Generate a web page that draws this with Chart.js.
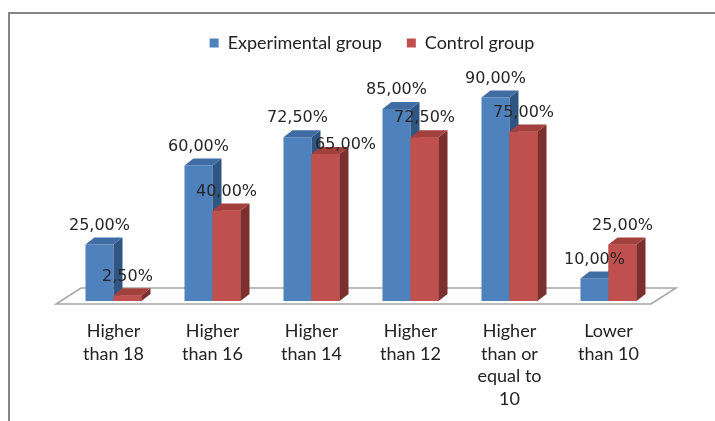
<!DOCTYPE html>
<html>
<head>
<meta charset="utf-8">
<script src="https://cdn.jsdelivr.net/npm/chart.js@4.4.0/dist/chart.umd.min.js"></script>
<style>
  html, body { margin: 0; padding: 0; background: #fff; }
  #wrap { width: 715px; height: 421px; }
</style>
</head>
<body>
<div id="wrap"><canvas id="myChart" width="715" height="421"></canvas></div>
<script>
// grade bands on the x axis
const categories = [
  ["Higher", "than 18"],
  ["Higher", "than 16"],
  ["Higher", "than 14"],
  ["Higher", "than 12"],
  ["Higher", "than or", "equal to", "10"],
  ["Lower", "than 10"]
];
const seriesNames = ["Experimental group", "Control group"];
const experimental = [25, 60, 72.5, 85, 90, 10];
const control = [2.5, 40, 65, 72.5, 75, 25];

// value labels sit centred over the bar; one gets pushed aside
const expLabelShift = [[0, 0], [0, 0], [0, 0], [0, 0], [0, 0], [0, 0]];
const ctlLabelShift = [[0, 0], [0, 0], [20, 10], [0, 0], [0, 0], [0, 0]];

const palette = [
  { front: '#4F81BD', top: '#3F6CA3', side: '#2F5583' },
  { front: '#C0504D', top: '#A3403D', side: '#7C302E' }
];
const depth = { dx: 9, dy: -7 };

function fmt(v) {
  return v.toFixed(2).replace('.', ',') + '%';
}

function poly(ctx, pts, fill) {
  ctx.beginPath();
  ctx.moveTo(pts[0][0], pts[0][1]);
  for (let i = 1; i < pts.length; i++) ctx.lineTo(pts[i][0], pts[i][1]);
  ctx.closePath();
  ctx.fillStyle = fill;
  ctx.fill();
}

function drawFaces(ctx, bar, col) {
  const l = bar.x - bar.width / 2;
  const r = bar.x + bar.width / 2;
  const t = bar.y;
  const b = bar.base;
  poly(ctx, [[r, b], [r, t], [r + depth.dx, t + depth.dy], [r + depth.dx, b + depth.dy]], col.side);
  poly(ctx, [[l, t], [r, t], [r + depth.dx, t + depth.dy], [l + depth.dx, t + depth.dy]], col.top);
}

const bars3d = {
  id: 'bars3d',
  beforeUpdate(chart) {
    // legend gets a fixed height so the plot starts lower
    const legend = chart.legend;
    if (legend && !legend._patched) {
      const fit = legend.fit;
      legend.fit = function () {
        fit.call(this);
        this.height = 66;
      };
      legend._patched = true;
    }
  },
  afterLayout(chart) {
    chart.legend.left += 11;
    chart.legend.right += 11;
  },
  beforeDraw(chart) {
    const ctx = chart.ctx;
    ctx.save();
    ctx.fillStyle = '#fff';
    ctx.fillRect(0, 0, chart.width, chart.height);
    // outer frame, runs off the right and bottom edges
    ctx.strokeStyle = '#868686';
    ctx.lineWidth = 2;
    ctx.strokeRect(9, 13, chart.width + 20, chart.height + 20);
    ctx.restore();
  },
  beforeDatasetsDraw(chart) {
    const ctx = chart.ctx;
    const { left, right } = chart.chartArea;
    const base = chart.scales.y.getPixelForValue(0);
    ctx.save();
    ctx.beginPath();
    ctx.moveTo(left - 8, base + 3);
    ctx.lineTo(right - 7, base + 3);
    ctx.lineTo(right + 18, base - 13);
    ctx.lineTo(left + 17, base - 13);
    ctx.closePath();
    ctx.fillStyle = '#fff';
    ctx.fill();
    ctx.strokeStyle = '#a6a6a6';
    ctx.lineWidth = 1.5;
    ctx.stroke();
    ctx.restore();
  },
  afterDatasetsDraw(chart) {
    const ctx = chart.ctx;
    const blue = chart.getDatasetMeta(0).data;
    const red = chart.getDatasetMeta(1).data;
    ctx.save();
    // blue depth faces first, then red fronts go back on top of them
    blue.forEach(bar => drawFaces(ctx, bar, palette[0]));
    red.forEach(bar => {
      bar.draw(ctx, chart.chartArea);
      drawFaces(ctx, bar, palette[1]);
    });

    ctx.font = '16px "DejaVu Sans"';
    ctx.fillStyle = '#262626';
    ctx.textAlign = 'center';
    ctx.textBaseline = 'middle';
    const shifts = [expLabelShift, ctlLabelShift];
    chart.data.datasets.forEach(function (ds, di) {
      chart.getDatasetMeta(di).data.forEach(function (bar, i) {
        const s = shifts[di][i];
        ctx.fillText(fmt(ds.data[i]), bar.x + s[0], bar.y - 19 + s[1]);
      });
    });
    ctx.restore();
  }
};

new Chart(document.getElementById('myChart').getContext('2d'), {
  type: 'bar',
  data: {
    labels: categories,
    datasets: [
      {
        label: seriesNames[0],
        data: experimental,
        backgroundColor: palette[0].front
      },
      {
        label: seriesNames[1],
        data: control,
        backgroundColor: palette[1].front
      }
    ]
  },
  options: {
    responsive: false,
    animation: false,
    events: [],
    layout: { padding: { left: 64, right: 57, top: 9, bottom: 0 } },
    categoryPercentage: 0.566,
    barPercentage: 1,
    plugins: {
      legend: {
        position: 'top',
        labels: {
          boxWidth: 9,
          boxHeight: 9,
          padding: 25,
          color: '#222',
          font: { family: 'Lato', size: 18 }
        }
      },
      tooltip: { enabled: false }
    },
    scales: {
      x: {
        grid: { display: false, drawTicks: false },
        border: { display: false },
        afterFit(scale) {
          scale.height = 120;
        },
        ticks: {
          padding: 19,
          maxRotation: 0,
          autoSkip: false,
          color: '#222',
          font: { family: 'Lato', size: 18, lineHeight: 1.25 }
        }
      },
      y: {
        display: false,
        min: 0,
        max: 100
      }
    }
  },
  plugins: [bars3d]
});
</script>
</body>
</html>
